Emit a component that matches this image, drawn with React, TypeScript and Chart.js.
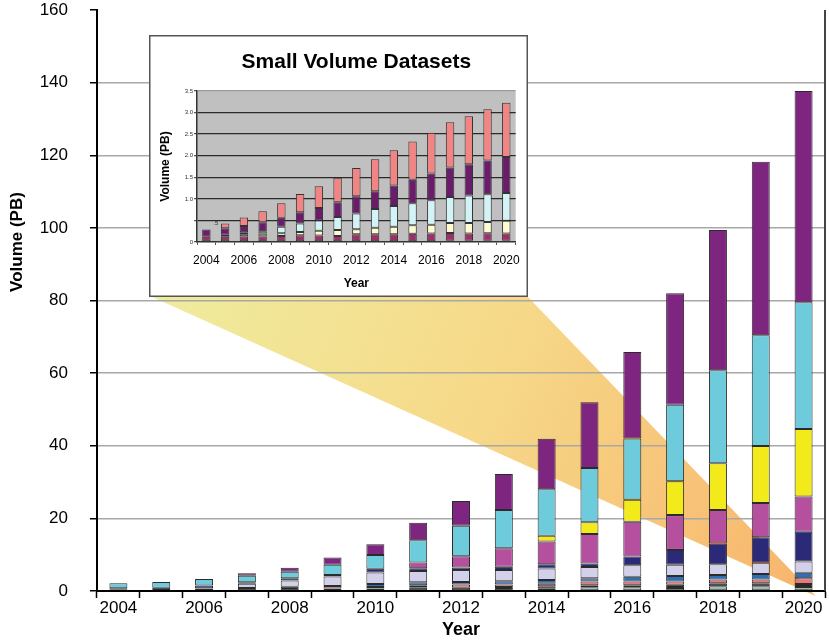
import React, { useEffect, useRef } from 'react';
import { Chart, registerables } from 'chart.js';

Chart.register(...registerables);

const FONT = "'Liberation Sans', Arial, Helvetica, sans-serif";

// ---------- categories / tick labels ----------
const years = ['2004', '2005', '2006', '2007', '2008', '2009', '2010', '2011', '2012', '2013', '2014', '2015', '2016', '2017', '2018', '2019', '2020'];
const shownYearLabels = ['2004', '2006', '2008', '2010', '2012', '2014', '2016', '2018', '2020'];
const mainYTickStep = 20;
const insetYTickStep = 0.5;

// ---------- main chart series (PB), bottom -> top ----------
const mainGray = [0, 0, 0, 0, 0, 0, 0, 0, 0, 0, 0.6, 1.0, 1.0, 0.8, 1.3, 1.3, 1.1];
const mainBlack = [0.35, 0.3, 0.7, 0.8, 1.2, 0.7, 0.7, 1.0, 0.9, 1.1, 0.7, 0.6, 0.6, 0.9, 0.8, 0.8, 0.8];
const mainSalmon = [0, 0, 0, 0, 0, 0.7, 0.4, 0.6, 0.9, 0.7, 0.7, 1.0, 1.0, 0.9, 1.1, 1.1, 1.6];
const mainBlue = [0, 0, 0, 0, 0, 0, 0.8, 0.8, 0.7, 0.9, 1.0, 0.9, 1.3, 1.5, 1.2, 1.5, 1.5];
const mainLavender = [0, 0, 0, 1.2, 1.7, 2.6, 3.2, 3.1, 3.3, 3.1, 3.2, 3.1, 3.2, 3.1, 3.0, 3.1, 3.1];
const mainNavy = [0.4, 0.6, 0.8, 0.4, 0.6, 0.4, 1.0, 0.75, 0.7, 0.9, 1.2, 1.0, 2.4, 4.1, 5.7, 7.0, 8.2];
const mainMagenta = [0, 0, 0, 0, 0, 0, 0, 1.6, 3.1, 5.1, 6.2, 8.1, 9.6, 9.6, 9.2, 9.4, 9.7];
const mainYellow = [0, 0, 0, 0, 0, 0, 0, 0, 0, 0, 1.6, 3.2, 6.0, 9.3, 12.9, 15.7, 18.6];
const mainCyan = [1.35, 1.6, 1.8, 1.8, 1.8, 2.8, 3.8, 6.15, 8.4, 10.5, 12.8, 15.0, 16.9, 21.1, 25.6, 30.5, 34.9];
const mainPurple = [0, 0, 0, 0.7, 1.1, 2.0, 3.0, 4.8, 6.8, 9.9, 13.9, 18.1, 23.8, 30.7, 38.6, 47.8, 58.2];

// ---------- inset "Small Volume Datasets" series (PB), bottom -> top ----------
const insetBlue = [0, 0, 0, 0, 0, 0, 0, 0, 0, 0, 0, 0, 0, 0.03, 0.03, 0.03, 0.03];
const insetPlum = [0.12, 0.12, 0.13, 0.13, 0.14, 0.155, 0.15, 0.14, 0.18, 0.18, 0.18, 0.19, 0.195, 0.18, 0.165, 0.17, 0.165];
const insetOlive = [0, 0.05, 0.05, 0.065, 0, 0, 0, 0, 0, 0, 0, 0, 0, 0, 0, 0, 0];
const insetCream = [0, 0, 0, 0, 0.06, 0.075, 0.11, 0.14, 0.115, 0.15, 0.175, 0.2, 0.205, 0.23, 0.245, 0.265, 0.295];
const insetCyan = [0, 0, 0.045, 0.055, 0.155, 0.2, 0.24, 0.3, 0.365, 0.435, 0.48, 0.51, 0.57, 0.605, 0.64, 0.64, 0.645];
const insetPurple = [0.17, 0.15, 0.145, 0.21, 0.205, 0.26, 0.29, 0.34, 0.4, 0.41, 0.475, 0.54, 0.62, 0.68, 0.72, 0.785, 0.835];
const insetSalmon = [0, 0.11, 0.195, 0.25, 0.34, 0.42, 0.5, 0.57, 0.655, 0.745, 0.815, 0.89, 0.945, 1.05, 1.115, 1.185, 1.26];

// inset box placement on the page (layout)
const INSET = { left: 149, top: 35, width: 379, height: 262 };

const nz = (arr: number[]) => arr.map((v) => (v ? v : null));

const mkDs = (data: number[], color: string, border = '#2b2b2b') => ({
  data: nz(data),
  backgroundColor: color,
  borderColor: border,
  borderWidth: 1,
  borderSkipped: false,
  categoryPercentage: 1,
  barPercentage: 0.42,
});

const mkInsetDs = (data: number[], color: string) => ({
  data: nz(data),
  backgroundColor: color,
  borderColor: '#333333',
  borderWidth: 1,
  borderSkipped: false,
  categoryPercentage: 1,
  barPercentage: 0.45,
});

const xTickCb = (_v: any, index: number) => {
  const lab = years[index];
  return shownYearLabels.includes(lab) ? lab : '';
};

export default function App() {
  const mainRef = useRef<HTMLCanvasElement | null>(null);
  const insetRef = useRef<HTMLCanvasElement | null>(null);

  useEffect(() => {
    if (!mainRef.current || !insetRef.current) return;

    const wedgePlugin = {
      id: 'wedge',
      beforeDraw(chart: any) {
        const { ctx } = chart;
        const xs = chart.scales.x;
        const ys = chart.scales.y;
        const catW = xs.width / years.length;
        const apexX = xs.getPixelForValue(years.length - 1) + catW * 0.21 + 3;
        const apexY = ys.getPixelForValue(0) + 5;
        const lx = INSET.left + 1;
        const rx = INSET.left + INSET.width - 1;
        const by = INSET.top + INSET.height - 1;
        ctx.save();
        const g = ctx.createLinearGradient(lx, by, apexX, apexY);
        g.addColorStop(0, '#EFEC9E');
        g.addColorStop(0.45, '#F6DA8A');
        g.addColorStop(1, '#F8B46C');
        ctx.fillStyle = g;
        ctx.beginPath();
        ctx.moveTo(lx, by);
        ctx.lineTo(rx, by);
        ctx.lineTo(apexX, apexY);
        ctx.closePath();
        ctx.fill();
        ctx.restore();
      },
      afterDraw(chart: any) {
        const { ctx, chartArea } = chart;
        ctx.save();
        ctx.strokeStyle = '#444';
        ctx.lineWidth = 2;
        ctx.beginPath();
        ctx.moveTo(chartArea.right, chartArea.top);
        ctx.lineTo(chartArea.right, chartArea.bottom);
        ctx.stroke();
        ctx.translate(17, 242);
        ctx.rotate(-Math.PI / 2);
        ctx.fillStyle = '#000';
        ctx.font = `bold 17px ${FONT}`;
        ctx.textAlign = 'center';
        ctx.textBaseline = 'middle';
        ctx.fillText('Volume (PB)', 0, 0);
        ctx.restore();
      },
    };

    const main = new Chart(mainRef.current, {
      type: 'bar',
      data: {
        labels: years,
        datasets: [
          mkDs(mainGray, '#9DB8B6'),
          mkDs(mainBlack, '#262626'),
          mkDs(mainSalmon, '#E8787A'),
          mkDs(mainBlue, '#2F6DB5'),
          mkDs(mainLavender, '#D3D1EA'),
          mkDs(mainNavy, '#2B2A78'),
          mkDs(mainMagenta, '#B5509F'),
          mkDs(mainYellow, '#F2EA1A'),
          mkDs(mainCyan, '#6DCBDB'),
          mkDs(mainPurple, '#7E2580'),
        ] as any,
      },
      options: {
        animation: false,
        responsive: false,
        maintainAspectRatio: false,
        layout: { padding: { top: 10, right: 4, left: 0, bottom: 0 } },
        plugins: { legend: { display: false }, tooltip: { enabled: false }, title: { display: false } },
        scales: {
          x: {
            stacked: true,
            grid: { offset: true, drawOnChartArea: false, drawTicks: true, tickLength: 7, tickColor: '#000', tickWidth: 1.5 },
            border: { display: true, color: '#000', width: 2 },
            ticks: { autoSkip: false, maxRotation: 0, minRotation: 0, color: '#000', font: { family: FONT, size: 17 }, padding: 0, callback: xTickCb },
            title: { display: true, text: 'Year', color: '#000', font: { family: FONT, size: 18, weight: 'bold' }, padding: { top: 0, bottom: 0 } },
            afterFit: (s: any) => { s.height = 50; s.paddingLeft = 0; s.paddingRight = 0; },
          },
          y: {
            stacked: true,
            min: 0,
            max: 160,
            ticks: { stepSize: mainYTickStep, color: '#000', font: { family: FONT, size: 17 }, padding: 22 },
            grid: {
              color: (c: any) => (c.tick && (c.tick.value === 0 || c.tick.value === 160) ? 'rgba(0,0,0,0)' : '#a8a8a8'),
              lineWidth: 1.5,
              drawTicks: true,
              tickLength: 7,
              tickColor: '#000',
              tickWidth: 1.5,
            },
            border: { display: true, color: '#000', width: 2 },
            afterFit: (s: any) => { s.width = 97; s.paddingTop = 0; s.paddingBottom = 0; },
          },
        },
      } as any,
      plugins: [wedgePlugin],
    });

    const insetPlugin = {
      id: 'insetBg',
      beforeDraw(chart: any) {
        const { ctx, chartArea, width, height } = chart;
        ctx.save();
        ctx.fillStyle = '#ffffff';
        ctx.fillRect(0, 0, width, height);
        ctx.fillStyle = '#C0C0C0';
        ctx.fillRect(chartArea.left, chartArea.top, chartArea.right - chartArea.left, chartArea.bottom - chartArea.top);
        ctx.restore();
      },
      afterDraw(chart: any) {
        const { ctx, width, height } = chart;
        const xs = chart.scales.x;
        const ys = chart.scales.y;
        ctx.save();
        ctx.fillStyle = '#333';
        ctx.font = `6px ${FONT}`;
        ctx.textAlign = 'center';
        ctx.textBaseline = 'middle';
        const catW = xs.width / years.length;
        ctx.fillText('.5', xs.getPixelForValue(0) + catW * 0.5, ys.getPixelForValue(0.5) + 3);
        ctx.strokeStyle = '#555';
        ctx.lineWidth = 1.5;
        ctx.strokeRect(0.75, 0.75, width - 1.5, height - 1.5);
        ctx.restore();
      },
    };

    const inset = new Chart(insetRef.current, {
      type: 'bar',
      data: {
        labels: years,
        datasets: [
          mkInsetDs(insetBlue, '#7B7BC8'),
          mkInsetDs(insetPlum, '#9C2F68'),
          mkInsetDs(insetOlive, '#8A8A72'),
          mkInsetDs(insetCream, '#FDFBCF'),
          mkInsetDs(insetCyan, '#D3F3F7'),
          mkInsetDs(insetPurple, '#6A1B6A'),
          mkInsetDs(insetSalmon, '#F28484'),
        ] as any,
      },
      options: {
        animation: false,
        responsive: false,
        maintainAspectRatio: false,
        layout: { padding: { top: 0, right: 11, left: 0, bottom: 0 } },
        plugins: {
          legend: { display: false },
          tooltip: { enabled: false },
          title: {
            display: true,
            text: 'Small Volume Datasets',
            color: '#000',
            fullSize: false,
            font: { family: FONT, size: 21, weight: 'bold' },
            padding: { top: 15, bottom: 15.8 },
          },
        },
        scales: {
          x: {
            stacked: true,
            grid: { offset: true, drawOnChartArea: false, drawTicks: true, tickLength: 3, tickColor: '#555', tickWidth: 1 },
            border: { display: true, color: '#333', width: 1.5 },
            ticks: { autoSkip: false, maxRotation: 0, minRotation: 0, color: '#000', font: { family: FONT, size: 12 }, padding: 8, callback: xTickCb },
            title: { display: true, text: 'Year', color: '#000', font: { family: FONT, size: 12, weight: 'bold' }, padding: { top: 0, bottom: 6 } },
            afterFit: (s: any) => { s.height = 55; },
          },
          y: {
            stacked: true,
            min: 0,
            max: 3.5,
            ticks: {
              stepSize: insetYTickStep,
              color: '#333',
              font: { family: FONT, size: 6 },
              padding: 1,
              callback: (v: any) => (v === 0 ? '0' : v === 0.5 ? '' : Number(v).toFixed(1)),
            },
            grid: {
              color: (c: any) => (c.tick && c.tick.value === 0 ? 'rgba(0,0,0,0)' : c.tick && c.tick.value === 3.5 ? '#9a9a9a' : '#2a2a2a'),
              lineWidth: 1.3,
              drawTicks: true,
              tickLength: 3,
              tickColor: '#555',
            },
            border: { display: true, color: '#333', width: 1.5 },
            title: { display: true, text: 'Volume (PB)', color: '#000', font: { family: FONT, size: 12, weight: 'bold' }, padding: { top: 9, bottom: 0 } },
            afterFit: (s: any) => { s.width = 48; },
          },
        },
      } as any,
      plugins: [insetPlugin],
    });

    return () => {
      main.destroy();
      inset.destroy();
    };
  }, []);

  return (
    <div style={{ position: 'absolute', left: 0, top: 0, width: 829, height: 641, background: '#fff' }}>
      <canvas ref={mainRef} width={829} height={641} style={{ position: 'absolute', left: 0, top: 0, width: 829, height: 641 }} />
      <canvas
        ref={insetRef}
        width={INSET.width}
        height={INSET.height}
        style={{ position: 'absolute', left: INSET.left, top: INSET.top, width: INSET.width, height: INSET.height }}
      />
    </div>
  );
}
